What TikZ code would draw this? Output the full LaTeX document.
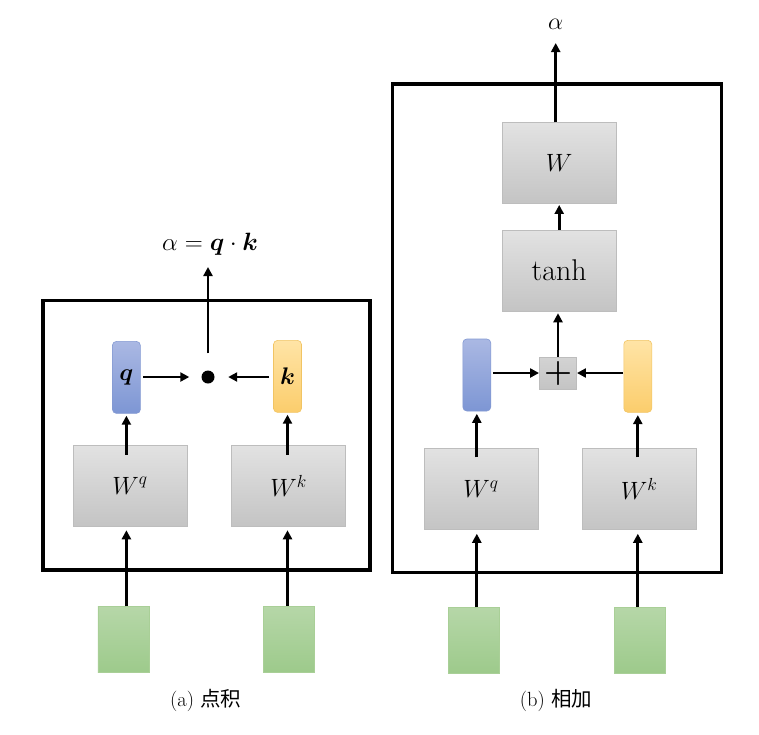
\RequirePackage{fix-cm}
\documentclass[tikz,border=0pt]{standalone}
\usepackage{amsmath}
\usepackage{fontspec}
\newfontfamily\cjk{Noto Sans CJK SC}
\usetikzlibrary{arrows.meta,calc}
\definecolor{grayT}{HTML}{E2E2E2}
\definecolor{grayB}{HTML}{C4C4C4}
\definecolor{grayL}{HTML}{BDBDBD}
\definecolor{greenT}{HTML}{B6D7A8}
\definecolor{greenB}{HTML}{9DCA8B}
\definecolor{greenL}{HTML}{A9CF97}
\definecolor{blueT}{HTML}{AAB8E3}
\definecolor{blueB}{HTML}{7D96D4}
\definecolor{blueL}{HTML}{8399D2}
\definecolor{orangeT}{HTML}{FFE4A6}
\definecolor{orangeB}{HTML}{FBCD6C}
\definecolor{orangeL}{HTML}{F1C463}
\begin{document}
\begin{tikzpicture}[x=1pt,y=-1pt]
\tikzset{
  arr/.style={line width=2.8pt,-{Triangle[length=9pt,width=9pt]}},
  frame/.style={line width=3.3pt},
  wbox/.style={draw=grayL,line width=0.5pt,top color=grayT,bottom color=grayB,
    minimum width=114pt,minimum height=81pt,inner sep=0pt,font=\fontsize{25}{28}\selectfont},
  vecbox/.style={rounded corners=4pt,line width=0.6pt,minimum width=28pt,
    minimum height=72pt,inner sep=0pt,font=\fontsize{24}{28}\selectfont},
  qvec/.style={vecbox,draw=blueL,top color=blueT,bottom color=blueB},
  kvec/.style={vecbox,draw=orangeL,top color=orangeT,bottom color=orangeB},
  inbox/.style={draw=greenL,line width=0.5pt,top color=greenT,bottom color=greenB,
    minimum width=51pt,minimum height=66pt,inner sep=0pt},
  captext/.style={font=\fontsize{20.5}{24}\selectfont},
}
\useasboundingbox (0,0) rectangle (759,734);

% ---------- (a) ----------
\draw[frame] (43,300.5) rectangle (370,570);
\node[wbox] (Wqa) at (130,485.5) {$W^q$};
\node[wbox] (Wka) at (288.5,485.5) {$W^k$};
\node[qvec] (qa) at (126.4,377.4) {$\boldsymbol{q}$};
\node[kvec] (ka) at (287.5,376.4) {$\boldsymbol{k}$};
\node[circle,fill=black,minimum size=13pt,inner sep=0pt] (dot) at (208,377) {};
\node[font=\fontsize{25}{30}\selectfont] (fa) at (210,244) {$\alpha=\boldsymbol{q}\cdot\boldsymbol{k}$};
\coordinate (atop) at (208,267);
\node[inbox] (g1) at (123.3,639.7) {};
\node[inbox] (g2) at (289,639) {};
\node[captext] (capa) at (205.7,700.7) {(a) {\cjk 点积}};

\draw[arr] ([yshift=17pt]dot.north) -- (atop);
\draw[arr] ([xshift=2.7pt]qa.east |- dot) -- ([xshift=-12pt]dot.west);
\draw[arr] ([xshift=-4pt]ka.west |- dot) -- ([xshift=13.5pt]dot.east);
\draw[arr] ($(Wqa.north -| qa)+(0,10)$) -- ([yshift=-2pt]qa.south);
\draw[arr] ($(Wka.north -| ka)+(0,10)$) -- ([yshift=-2pt]ka.south);
\draw[arr] (g1.north -| qa) -- ($(Wqa.south -| qa)+(0,4)$);
\draw[arr] (g2.north -| ka) -- ($(Wka.south -| ka)+(0,4)$);

% ---------- (b) ----------
\draw[frame] (392.7,84) rectangle (721.7,572.7);
\node[font=\fontsize{24}{26}\selectfont] (alpha) at (555.7,24) {$\alpha$};
\coordinate (btop) at (555.7,43);
\node[wbox] (Wb) at (559.2,163.2) {$W$};
\node[wbox,font=\fontsize{30}{34}\selectfont] (tanh) at (559.2,270.5) {tanh};
\node[draw=grayL,line width=0.5pt,top color=grayT!85!gray,bottom color=grayB,
  minimum width=37.4pt,minimum height=31.6pt,inner sep=0pt,
  font=\fontsize{32}{34}\selectfont] (plus) at (558,373) {$\boldsymbol{+}$};
\node[qvec] (qb) at (476.8,375) {};
\node[kvec] (kb) at (637.8,376.3) {};
\node[wbox] (Wqb) at (481,489) {$W^q$};
\node[wbox] (Wkb) at (639.2,489) {$W^k$};
\node[inbox] (g3) at (473.7,640.3) {};
\node[inbox] (g4) at (640,640) {};
\node[captext] (capb) at (556,700.7) {(b) {\cjk 相加}};

\draw[arr] (Wb.north -| btop) -- (btop);
\draw[arr] (tanh.north) -- ([yshift=-1pt]Wb.south);
\draw[arr] (plus.north) -- ($(plus.north |- tanh.south)+(0,2)$);
\draw[arr] ([xshift=1.7pt]qb.east |- plus) -- (plus.west);
\draw[arr] ([xshift=-0.5pt]kb.west |- plus) -- (plus.east);
\draw[arr] ($(Wqb.north -| qb)+(0,9)$) -- ([yshift=-2.5pt]qb.south);
\draw[arr] ($(Wkb.north -| kb)+(0,9)$) -- ([yshift=-2.5pt]kb.south);
\draw[arr] (g3.north -| qb) -- ($(Wqb.south -| qb)+(0,4)$);
\draw[arr] (g4.north -| kb) -- ($(Wkb.south -| kb)+(0,4)$);
\end{tikzpicture}
\end{document}
